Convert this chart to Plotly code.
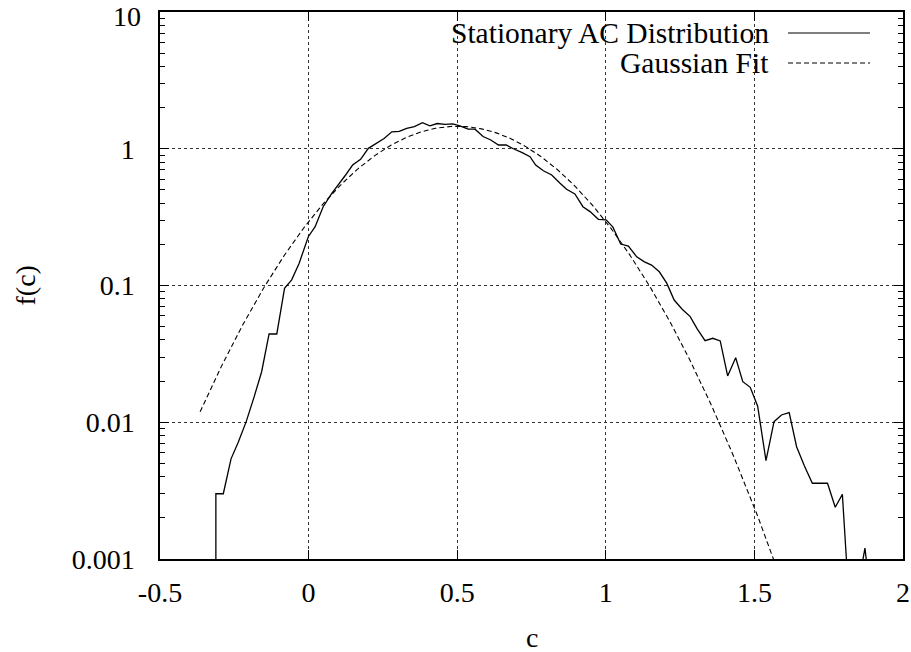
import numpy as np
import plotly.graph_objects as go

# ---- data ----
c_data = [-0.312, -0.312, -0.287, -0.261, -0.237, -0.210, -0.183, -0.158, -0.133, -0.107,
          -0.081, -0.057, -0.032, -0.015, -0.001, 0.022, 0.049, 0.078, 0.100, 0.122,
          0.148, 0.175, 0.201, 0.229, 0.254, 0.280, 0.305, 0.330, 0.356, 0.383,
          0.408, 0.433, 0.459, 0.485, 0.509, 0.537, 0.560, 0.587, 0.613, 0.639,
          0.665, 0.689, 0.717, 0.745, 0.764, 0.790, 0.818, 0.846, 0.868, 0.896,
          0.923, 0.947, 0.975, 1.001, 1.024, 1.050, 1.076, 1.104, 1.130, 1.154,
          1.180, 1.205, 1.230, 1.257, 1.284, 1.308, 1.334, 1.360, 1.385, 1.410,
          1.437, 1.461, 1.486, 1.511, 1.539, 1.566, 1.591, 1.617, 1.642, 1.668,
          1.695, 1.721, 1.746, 1.772, 1.796, 1.821, 1.847, 1.872, 1.897]
f_data = [0.0001, 0.0030, 0.0030, 0.0054, 0.0071, 0.0101, 0.0154, 0.0234, 0.0442, 0.0442,
          0.0953, 0.110, 0.145, 0.182, 0.2275, 0.269, 0.377, 0.472, 0.543, 0.632,
          0.760, 0.838, 1.007, 1.107, 1.19, 1.33, 1.34, 1.41, 1.45, 1.55,
          1.47, 1.53, 1.51, 1.52, 1.47, 1.39, 1.39, 1.23, 1.16, 1.065,
          1.065, 1.00, 0.942, 0.875, 0.76, 0.691, 0.643, 0.559, 0.505, 0.467,
          0.377, 0.347, 0.305, 0.302, 0.267, 0.201, 0.194, 0.162, 0.149, 0.141,
          0.126, 0.104, 0.0783, 0.067, 0.0592, 0.048, 0.0395, 0.0411, 0.0393, 0.0218,
          0.0296, 0.0198, 0.0180, 0.0131, 0.00524, 0.0101, 0.0113, 0.01175, 0.00662, 0.00481,
          0.00358, 0.00358, 0.00358, 0.00239, 0.00297, 0.0004, 0.0006, 0.0012, 0.0004]

# Gaussian fit parameters
gauss_amp = 1.46
gauss_mu = 0.50
gauss_sigma = 0.279
gauss_c_start = -0.365
gauss_c_end = 1.70

x_tickvals = [-0.5, 0, 0.5, 1, 1.5, 2]
x_ticktext = ["-0.5", "0", "0.5", "1", "1.5", "2"]
y_tickvals = [0.001, 0.01, 0.1, 1, 10]
y_ticktext = ["0.001", "0.01", "0.1", "1", "10"]

legend_names = ["Stationary AC Distribution", "Gaussian Fit"]

c_fit = np.linspace(gauss_c_start, gauss_c_end, 400)
f_fit = gauss_amp * np.exp(-(c_fit - gauss_mu) ** 2 / (2 * gauss_sigma ** 2))

FONT = "Liberation Serif"
FS = 28
FS_KEY = 29.5

fig = go.Figure()
fig.add_trace(go.Scatter(x=c_data, y=f_data, mode="lines", name=legend_names[0],
                         line=dict(color="black", width=1.3)))
fig.add_trace(go.Scatter(x=c_fit, y=f_fit, mode="lines", name=legend_names[1],
                         line=dict(color="black", width=1.1, dash="5px,3px")))

L, R, T, B = 160, 8, 12, 93
W, H = 911, 652
pw, ph = W - L - R, H - T - B

def px_x(p):
    return (p - L) / pw

def px_y(p):
    return (H - B - p) / ph

# the top tick label would overflow the page edge, so it is drawn as an annotation
y_ticktext_axis = y_ticktext[:-1] + [""]

fig.update_layout(
    width=W, height=H,
    margin=dict(l=L, r=R, t=T, b=B, pad=0, autoexpand=False),
    paper_bgcolor="white", plot_bgcolor="white",
    showlegend=False,
    font=dict(family=FONT, size=FS, color="black"),
)
fig.update_xaxes(
    range=[-0.5, 2], tickmode="array", tickvals=x_tickvals, ticktext=x_ticktext,
    ticks="inside", ticklen=9, tickwidth=1, tickcolor="black",
    showline=True, linecolor="black", linewidth=1.5, mirror="allticks",
    showgrid=True, gridcolor="#333", gridwidth=1, griddash="dot",
    zeroline=False, ticklabelstandoff=8, automargin=False,
    ticklabeloverflow="allow",
    tickfont=dict(family=FONT, size=FS),
)
fig.update_yaxes(
    type="log", range=[-3.0002, 1.0002], tickmode="array", tickvals=y_tickvals,
    ticktext=y_ticktext_axis,
    ticks="inside", ticklen=9, tickwidth=1, tickcolor="black",
    minor=dict(ticks="inside", ticklen=5, tickcolor="black", dtick="D1", showgrid=False),
    showline=True, linecolor="black", linewidth=1.5, mirror="allticks",
    showgrid=True, gridcolor="#333", gridwidth=1, griddash="dot",
    zeroline=False, ticklabelstandoff=18, automargin=False,
    ticklabeloverflow="allow",
    tickfont=dict(family=FONT, size=FS),
)
fig.add_annotation(x=px_x(142), y=1.0, xref="paper", yref="paper", yshift=T,
                   text=y_ticktext[-1], showarrow=False, xanchor="right", yanchor="top",
                   borderpad=0, font=dict(family=FONT, size=FS))

# white key box covering grid lines
fig.add_shape(type="rect", xref="paper", yref="paper",
              x0=px_x(447), x1=px_x(885), y0=px_y(78), y1=1.0,
              fillcolor="white", line=dict(width=0), layer="between")

# key entries (text right-aligned, sample on the right)
key_rows_y = [33, 63]
key_dash = ["solid", "5px,3px"]
for name, yy, dsh in zip(legend_names, key_rows_y, key_dash):
    fig.add_annotation(x=px_x(771), y=px_y(yy), xref="paper", yref="paper",
                       text=name, showarrow=False, xanchor="right", yanchor="middle",
                       font=dict(family=FONT, size=FS_KEY))
    fig.add_shape(type="line", xref="paper", yref="paper",
                  x0=px_x(788), x1=px_x(870), y0=px_y(yy), y1=px_y(yy),
                  line=dict(color="black", width=1.2, dash=dsh), layer="above")

# axis titles
fig.add_annotation(x=0.5, y=px_y(637), xref="paper", yref="paper", text="c",
                   showarrow=False, xanchor="center", yanchor="middle",
                   font=dict(family=FONT, size=FS))
fig.add_annotation(x=px_x(25), y=0.5, xref="paper", yref="paper", text="f(c)",
                   showarrow=False, xanchor="center", yanchor="middle", textangle=-90,
                   font=dict(family=FONT, size=FS))

fig.write_html("out.html")
